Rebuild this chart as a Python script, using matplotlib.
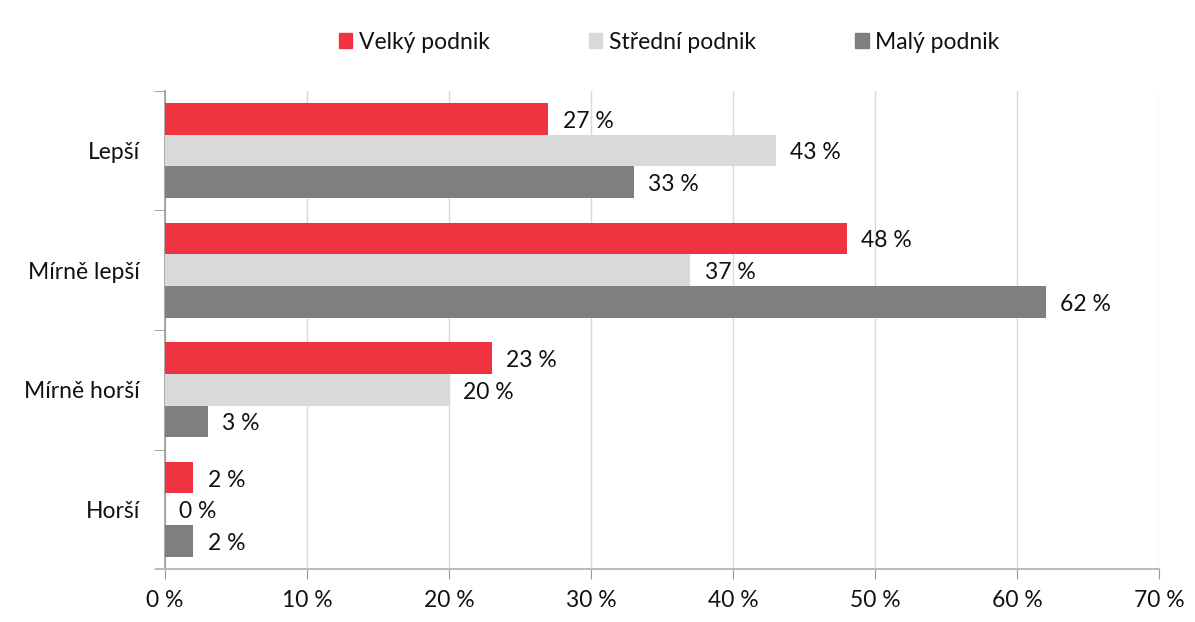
import numpy as np
import matplotlib
matplotlib.use("Agg")
import matplotlib.pyplot as plt
from matplotlib.patches import Patch

plt.rcParams['font.family'] = ['Lato', 'DejaVu Sans']

categories = ["Lepší", "Mírně lepší", "Mírně horší", "Horší"]
series_names = ["Velký podnik", "Střední podnik", "Malý podnik"]
velky = [27, 48, 23, 2]
stredni = [43, 37, 20, 0]
maly = [33, 62, 3, 2]
colors = ["#EF3340", "#D9D9D9", "#7F7F7F"]
xticks = [0, 10, 20, 30, 40, 50, 60, 70]

fs = 16.5
fig = plt.figure(figsize=(11.95, 6.22), dpi=100)
ax = fig.add_axes([0.138, 0.085, 0.832, 0.769])

n = len(categories)
pos = np.arange(n)  # 0 = top
bar_h = 0.265
values = [velky, stredni, maly]
for i, (vals, col) in enumerate(zip(values, colors)):
    y = pos + (i - 1) * bar_h
    ax.barh(y, vals, height=bar_h, color=col, zorder=3)
    for yy, v in zip(y, vals):
        ax.text(v + 1.0, yy + 0.02, f"{v} %", va="center", ha="left", fontsize=fs, color="#111111")

ax.set_ylim(n - 0.5, -0.5)
ax.set_xlim(0, 70)
ax.set_xticks(xticks)
ax.set_xticklabels([f"{t} %" for t in xticks], fontsize=fs, color="#111111")
ax.set_yticks(pos)
ax.set_yticklabels(categories, fontsize=fs, color="#111111")
ax.tick_params(axis='y', length=0, pad=18)
ax.tick_params(axis='x', length=7, color="#999999", pad=8)
ax.set_yticks(np.arange(n + 1) - 0.5, minor=True)
ax.tick_params(axis='y', which='minor', length=8, color="#999999")

ax.grid(axis='x', color="#D9D9D9", linewidth=1, zorder=0)
for s in ["top", "right"]:
    ax.spines[s].set_visible(False)
ax.spines["left"].set_color("#999999")
ax.spines["bottom"].set_color("#BBBBBB")
ax.spines["bottom"].set_bounds(-0.6, 70)
ax.spines["left"].set_linewidth(1.2)
ax.spines["bottom"].set_linewidth(1.5)

handles = [Patch(color=c, label=l) for c, l in zip(colors, series_names)]
fig.legend(handles=handles, loc="center", bbox_to_anchor=(0.56, 0.932), ncol=3,
           frameon=False, fontsize=fs, handlelength=0.6, handleheight=0.6,
           handletextpad=0.3, columnspacing=4.3, labelcolor="#111111")

fig.savefig("out.png", dpi=100)
